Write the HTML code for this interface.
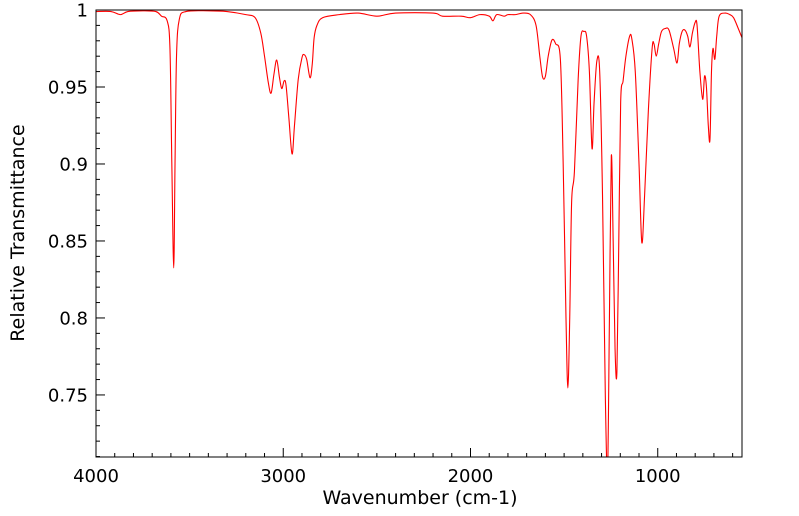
<!DOCTYPE html>
<html><head><meta charset="utf-8"><style>
html,body{margin:0;padding:0;background:#fff;}
svg{display:block;font-family:"DejaVu Sans","Liberation Sans",sans-serif;}
</style></head><body>
<svg id="chart" width="799" height="516" viewBox="0 0 799 516" xmlns="http://www.w3.org/2000/svg">
<defs><clipPath id="plotclip"><rect x="96" y="10" width="646" height="447"/></clipPath></defs>
<g id="axes"></g>
<path id="spectrum" fill="none" stroke="#ff0000" stroke-width="1.1" clip-path="url(#plotclip)"/>
<rect x="96" y="10" width="646" height="447" fill="none" stroke="#000" stroke-width="1"/>
<text x="420" y="504" font-size="19" text-anchor="middle">Wavenumber (cm-1)</text>
<text transform="translate(24,233) rotate(-90)" font-size="19" text-anchor="middle">Relative Transmittance</text>
</svg>
<script>
const wavenumbers = [4000,3920,3870,3830,3750,3680,3650,3620,3605,3595,3585,3578,3570,3555,3520,3400,3300,3200,3150,3120,3100,3080,3065,3050,3035,3020,3008,2995,2985,2970,2953,2940,2920,2900,2889,2875,2857,2845,2835,2820,2790,2700,2600,2500,2400,2200,2150,2050,2000,1950,1900,1880,1860,1820,1800,1760,1720,1680,1650,1630,1615,1600,1585,1565,1545,1520,1505,1490,1480,1470,1460,1445,1425,1410,1394,1380,1365,1351,1340,1325,1310,1295,1280,1268,1258,1248,1238,1228,1218,1208,1198,1185,1170,1150,1138,1120,1100,1085,1070,1050,1030,1020,1008,995,980,960,940,915,897,885,870,855,840,828,815,800,790,775,760,750,740,730,721,713,705,695,685,672,640,615,595,570,550];
const transmittance = [0.999,0.999,0.997,0.999,0.9995,0.999,0.996,0.993,0.975,0.90,0.8325,0.90,0.97,0.994,0.999,0.9995,0.999,0.997,0.995,0.985,0.97,0.953,0.946,0.958,0.9675,0.956,0.949,0.954,0.951,0.93,0.9065,0.925,0.955,0.969,0.971,0.968,0.956,0.965,0.982,0.990,0.995,0.997,0.998,0.996,0.998,0.998,0.996,0.996,0.995,0.997,0.996,0.993,0.997,0.996,0.997,0.997,0.998,0.997,0.990,0.970,0.9565,0.957,0.970,0.9805,0.978,0.968,0.90,0.80,0.7545,0.80,0.875,0.895,0.955,0.983,0.986,0.983,0.96,0.910,0.94,0.967,0.960,0.88,0.75,0.70,0.80,0.905,0.85,0.78,0.765,0.85,0.940,0.954,0.970,0.983,0.981,0.960,0.900,0.849,0.880,0.935,0.975,0.978,0.970,0.978,0.986,0.988,0.987,0.975,0.9656,0.978,0.986,0.987,0.983,0.976,0.985,0.992,0.990,0.960,0.942,0.957,0.950,0.925,0.916,0.960,0.975,0.968,0.983,0.996,0.998,0.997,0.995,0.988,0.982];
const xTickLabels = [4000,3000,2000,1000];
const yTickLabels = [0.75,0.8,0.85,0.9,0.95,1];

const L=96,R=742,T=10,B=457;
const X0=4000,X1=550,Y0=0.7097,Y1=1;
const xs=w=>L+(X0-w)/(X0-X1)*(R-L);
const ys=v=>B-(v-Y0)/(Y1-Y0)*(B-T);
const NS="http://www.w3.org/2000/svg";
const axes=document.getElementById('axes');
function mk(tag,attrs){const e=document.createElementNS(NS,tag);for(const k in attrs)e.setAttribute(k,attrs[k]);axes.appendChild(e);return e;}

for(let w=4000;w>=600;w-=100){
  const major=w%1000===0;
  const t=mk('line',{x1:xs(w),x2:xs(w),y1:B,y2:B-(major?9:4),stroke:'#000','stroke-width':1});
  
  
}
xTickLabels.forEach(w=>{
  const t=mk('text',{x:xs(w),y:482,'font-size':18,'text-anchor':'middle'});
  t.textContent=String(w);
  
  
});
for(let i=71;i<=100;i++){
  const v=i/100;const major=i%5===0;
  const t=mk('line',{x1:L,x2:L+(major?9:4),y1:ys(v),y2:ys(v),stroke:'#000','stroke-width':1});
  
  
}
yTickLabels.forEach(v=>{
  const t=mk('text',{x:88,y:ys(v)+6.5,'font-size':18,'text-anchor':'end'});
  t.textContent=String(v);
  
  
});
const pts=wavenumbers.map((w,i)=>[xs(w),ys(transmittance[i])]);
let d='M'+pts[0][0].toFixed(2)+','+pts[0][1].toFixed(2);
for(let i=0;i<pts.length-1;i++){
  const p0=pts[Math.max(0,i-1)],p1=pts[i],p2=pts[i+1],p3=pts[Math.min(pts.length-1,i+2)];
  const c1=[p1[0]+(p2[0]-p0[0])/6,p1[1]+(p2[1]-p0[1])/6];
  const c2=[p2[0]-(p3[0]-p1[0])/6,p2[1]-(p3[1]-p1[1])/6];
  d+=' C'+c1[0].toFixed(2)+','+c1[1].toFixed(2)+' '+c2[0].toFixed(2)+','+c2[1].toFixed(2)+' '+p2[0].toFixed(2)+','+p2[1].toFixed(2);
}
document.getElementById('spectrum').setAttribute('d',d);
</script>
</body></html>
